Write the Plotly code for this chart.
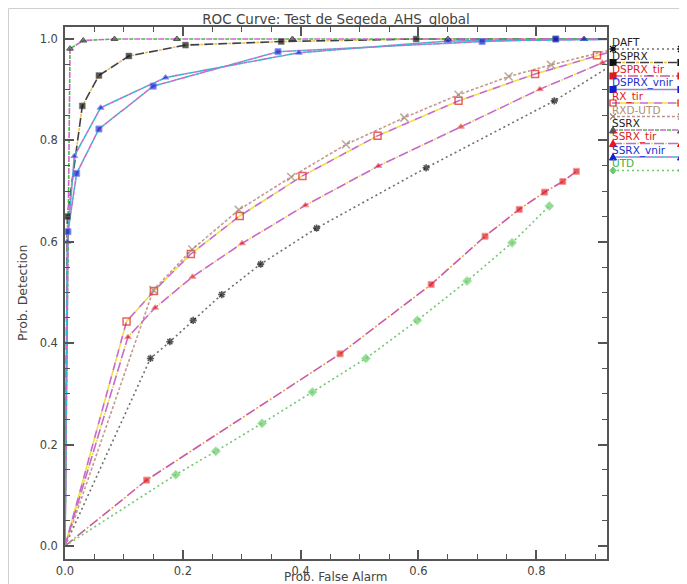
import plotly.graph_objects as go

# ---------------- data ----------------
daft_fa = [0.0, 0.145, 0.178, 0.2175, 0.266, 0.332, 0.427, 0.613, 0.8305, 1.0]
daft_pd = [0.0, 0.370, 0.403, 0.445, 0.496, 0.556, 0.627, 0.746, 0.878, 1.0]

dsprx_fa = [0.0, 0.004, 0.0294, 0.0576, 0.1085, 0.2045, 0.367, 0.596, 0.833, 1.0]
dsprx_pd = [0.0, 0.650, 0.868, 0.928, 0.9665, 0.988, 0.995, 1.0, 1.0, 1.0]

dsprx_tir_fa = [0.0, 0.1385, 0.467, 0.6215, 0.713, 0.771, 0.814, 0.845, 0.868]
dsprx_tir_pd = [0.0, 0.130, 0.379, 0.516, 0.611, 0.664, 0.698, 0.719, 0.739]

dsprx_vnir_fa = [0.0, 0.005, 0.0198, 0.0576, 0.1497, 0.3616, 0.708, 0.833, 1.0]
dsprx_vnir_pd = [0.0, 0.620, 0.735, 0.8225, 0.907, 0.975, 0.995, 1.0, 1.0]

rx_tir_fa = [0.0, 0.1045, 0.151, 0.2136, 0.2966, 0.403, 0.5305, 0.668, 0.798, 0.903, 1.0]
rx_tir_pd = [0.0, 0.443, 0.503, 0.576, 0.651, 0.730, 0.809, 0.878, 0.931, 0.968, 1.0]

rxd_utd_fa = [0.0, 0.15, 0.216, 0.295, 0.384, 0.477, 0.576, 0.668, 0.753, 0.825, 1.0]
rxd_utd_pd = [0.0, 0.505, 0.585, 0.663, 0.728, 0.792, 0.845, 0.890, 0.926, 0.949, 1.0]

ssrx_fa = [0.0, 0.0085, 0.031, 0.084, 0.19, 0.386, 0.65, 0.881, 1.0]
ssrx_pd = [0.0, 0.981, 0.997, 1.0, 1.0, 1.0, 1.0, 1.0, 1.0]

ssrx_tir_fa = [0.0, 0.1068, 0.153, 0.2164, 0.3006, 0.408, 0.532, 0.672, 0.806, 0.912, 1.0]
ssrx_tir_pd = [0.0, 0.412, 0.470, 0.531, 0.597, 0.672, 0.7495, 0.827, 0.901, 0.953, 1.0]

ssrx_vnir_fa = [0.0, 0.004, 0.0158, 0.0605, 0.1706, 0.397, 0.65, 0.881, 1.0]
ssrx_vnir_pd = [0.0, 0.600, 0.769, 0.8645, 0.924, 0.973, 0.996, 1.0, 1.0]

utd_fa = [0.0, 0.188, 0.256, 0.3345, 0.4198, 0.5107, 0.598, 0.6825, 0.7588, 0.822]
utd_pd = [0.0, 0.1407, 0.187, 0.242, 0.3037, 0.370, 0.445, 0.5227, 0.598, 0.6706]

series_names = ["DAFT", "DSPRX", "DSPRX_tir", "DSPRX_vnir", "RX_tir",
                "RXD-UTD", "SSRX", "SSRX_tir", "SSRX_vnir", "UTD"]
series_fa = [daft_fa, dsprx_fa, dsprx_tir_fa, dsprx_vnir_fa, rx_tir_fa,
             rxd_utd_fa, ssrx_fa, ssrx_tir_fa, ssrx_vnir_fa, utd_fa]
series_pd = [daft_pd, dsprx_pd, dsprx_tir_pd, dsprx_vnir_pd, rx_tir_pd,
             rxd_utd_pd, ssrx_pd, ssrx_tir_pd, ssrx_vnir_pd, utd_pd]

# ---------------- styles ----------------
MAG = "#c86ac8"
YEL = "#f0e040"
CYA = "#38b8d0"
GRN = "#44b844"
label_colors = ["#222222", "#222222", "#e02020", "#2030d0", "#e02020",
                "#b09070", "#222222", "#e02020", "#2030d0", "#40b040"]
# (primary colour, dash, secondary colour, dash)
line_styles = [
    ("#707070", "2px,3px", None, None),
    ("#404040", "9px,5px", "#f0c040", "0px,10px,3px,1px"),
    ("#cc5aa0", "10px,6px", "#f0a040", "0px,12px,2px,2px"),
    (MAG, "6px,4px", CYA, "0px,6px,4px,0px"),
    (MAG, "8px,6px", YEL, "0px,8px,6px,0px"),
    ("#b89878", "2px,3px", "#d090b0", "0px,2px,1px,2px"),
    (MAG, "6px,6px", GRN, "0px,7px,4px,1px"),
    (MAG, "10px,4px", YEL, "0px,11px,2px,1px"),
    (CYA, "6px,4px", MAG, "0px,6px,4px,0px"),
    ("#70c870", "2px,3px", None, None),
]
marker_styles = [
    dict(symbol="asterisk", color="#111111", size=6, line=dict(color="#111111", width=1.6)),
    dict(symbol="square", color="#111111", size=6, line=dict(color="#555555", width=0.5)),
    dict(symbol="square", color="#e01818", size=6, line=dict(color="#f07070", width=1)),
    dict(symbol="square", color="#1020d0", size=6, line=dict(color="#6070f0", width=1)),
    dict(symbol="square-open", color="#e02020", size=7, line=dict(color="#e02020", width=1.5)),
    dict(symbol="x-thin", color="#a08870", size=8, line=dict(color="#a08870", width=1.5)),
    dict(symbol="triangle-up", color="#555555", size=6, line=dict(color="#111111", width=1)),
    dict(symbol="triangle-up", color="#e01818", size=6, line=dict(color="#f07070", width=1)),
    dict(symbol="triangle-up", color="#1020d0", size=6, line=dict(color="#6070f0", width=1)),
    dict(symbol="diamond", color="#66cc66", size=7, line=dict(color="#99dd99", width=1)),
]

fig = go.Figure()

# lines
for i in range(len(series_names)):
    ca, da, cb, db = line_styles[i]
    fig.add_trace(go.Scatter(x=series_fa[i], y=series_pd[i], mode="lines",
                             line=dict(color=ca, dash=da, width=1.6),
                             name=series_names[i], showlegend=False, hoverinfo="skip"))
    if cb:
        fig.add_trace(go.Scatter(x=series_fa[i], y=series_pd[i], mode="lines",
                                 line=dict(color=cb, dash=db, width=1.6),
                                 showlegend=False, hoverinfo="skip"))
# markers on top (no marker at the curve end points (0,0) and (1,1))
for i in range(len(series_names)):
    ms = dict(marker_styles[i])
    sz = ms.pop("size")
    sizes = [0 if (x == 0 and y == 0) or x >= 1.0 else sz
             for x, y in zip(series_fa[i], series_pd[i])]
    fig.add_trace(go.Scatter(x=series_fa[i], y=series_pd[i], mode="markers",
                             marker=dict(size=sizes, **ms),
                             name=series_names[i], showlegend=False))

# ---------------- layout geometry ----------------
OFF = 8                      # page body margin of the html
W, H = 687 - OFF, 584 - OFF  # figure size inside the window
# plot area in window pixels
L, R, T, B = 65, 607, 27, 559


def px2x(px):
    return (px - L) / (R - L)


def py2y(py):
    return (B - py) / (B - T)


shapes = []
annotations = []
FONT = "DejaVu Sans"

# outer light frame
shapes.append(dict(type="rect", xref="paper", yref="paper",
                   x0=px2x(OFF + 0.5), x1=px2x(681), y0=py2y(600), y1=py2y(OFF + 0.5),
                   line=dict(color="#cfcfcf", width=1), layer="below"))


def glyph_shapes(kind, cx, cy, color):
    """small legend symbol drawn as a shape, centred at window pixel (cx, cy)"""
    s = 3.0
    out = []
    if kind in ("square", "square-open"):
        out.append(dict(type="rect", xref="paper", yref="paper",
                        x0=px2x(cx - s), x1=px2x(cx + s), y0=py2y(cy + s), y1=py2y(cy - s),
                        line=dict(color=color, width=1.2),
                        fillcolor=color if kind == "square" else "rgba(0,0,0,0)"))
        return out
    if kind == "triangle-up":
        pts = [(cx, cy - s - 0.5), (cx + s + 0.5, cy + s), (cx - s - 0.5, cy + s)]
    elif kind == "diamond":
        pts = [(cx, cy - s - 0.5), (cx + s, cy), (cx, cy + s + 0.5), (cx - s, cy)]
    else:
        pts = None
    if pts:
        d = "M " + " L ".join(f"{px2x(a):.5f},{py2y(b):.5f}" for a, b in pts) + " Z"
        out.append(dict(type="path", xref="paper", yref="paper", path=d,
                        line=dict(color=color, width=1), fillcolor=color))
        return out
    # strokes: x or asterisk
    segs = [((cx - s, cy - s), (cx + s, cy + s)), ((cx - s, cy + s), (cx + s, cy - s))]
    if kind == "asterisk":
        segs.append(((cx - s - 0.5, cy), (cx + s + 0.5, cy)))
        segs.append(((cx, cy - s - 0.5), (cx, cy + s + 0.5)))
    d = " ".join(f"M {px2x(a[0]):.5f},{py2y(a[1]):.5f} L {px2x(b[0]):.5f},{py2y(b[1]):.5f}"
                 for a, b in segs)
    out.append(dict(type="path", xref="paper", yref="paper", path=d,
                    line=dict(color=color, width=1.3)))
    return out


# custom legend: label above, line sample with symbols below
for i, name in enumerate(series_names):
    ty = 42 + 13.5 * i
    sy = ty + 7
    annotations.append(dict(x=px2x(610), y=py2y(ty), xref="paper", yref="paper",
                            text=name, showarrow=False, xanchor="left", yanchor="middle",
                            font=dict(family=FONT, size=10.5, color=label_colors[i])))
    ca, da, cb, db = line_styles[i]
    shapes.append(dict(type="line", xref="paper", yref="paper",
                       x0=px2x(612), x1=px2x(683), y0=py2y(sy), y1=py2y(sy),
                       line=dict(color=ca, dash=da, width=1.5)))
    if cb:
        shapes.append(dict(type="line", xref="paper", yref="paper",
                           x0=px2x(612), x1=px2x(683), y0=py2y(sy), y1=py2y(sy),
                           line=dict(color=cb, dash=db, width=1.5)))
    for gx in (613, 681):
        shapes.extend(glyph_shapes(marker_styles[i]["symbol"], gx, sy,
                                   marker_styles[i]["color"]))

# axis titles
annotations.append(dict(x=px2x(336), y=py2y(577), xref="paper", yref="paper",
                        text="Prob. False Alarm", showarrow=False,
                        xanchor="center", yanchor="middle",
                        font=dict(family=FONT, size=12, color="#444444")))
annotations.append(dict(x=px2x(22), y=py2y(293), xref="paper", yref="paper",
                        text="Prob. Detection", showarrow=False, textangle=-90,
                        xanchor="center", yanchor="middle",
                        font=dict(family=FONT, size=12.5, color="#444444")))

axis_common = dict(showgrid=False, zeroline=False, showline=True, linecolor="#555555",
                   linewidth=1.5, ticks="inside", ticklen=9, tickwidth=1.5,
                   tickcolor="#555555", mirror="ticks", tickformat=".1f",
                   tickfont=dict(family=FONT, size=11.5, color="#444444"),
                   minor=dict(ticks="inside", ticklen=5, tickwidth=1.2,
                              tickcolor="#555555", dtick=0.05, showgrid=False))

fig.update_layout(
    width=W, height=H,
    margin=dict(l=L - OFF, r=W - (R - OFF), t=T - OFF, b=H - (B - OFF), autoexpand=False),
    paper_bgcolor="white", plot_bgcolor="white",
    title=dict(text="ROC Curve: Test de Segeda_AHS_global", x=0.5,
               xref="paper", y=1 - (19 - OFF) / H, yanchor="middle", xanchor="center",
               font=dict(family=FONT, size=13.5, color="#444444")),
    xaxis=dict(range=[0, 0.92], tick0=0, dtick=0.2, **axis_common),
    yaxis=dict(range=[-0.0256, 1.0237], tick0=0, dtick=0.2, ticklabelstandoff=3,
               **axis_common),
    shapes=shapes, annotations=annotations, showlegend=False,
)

fig.write_html("out.html")
